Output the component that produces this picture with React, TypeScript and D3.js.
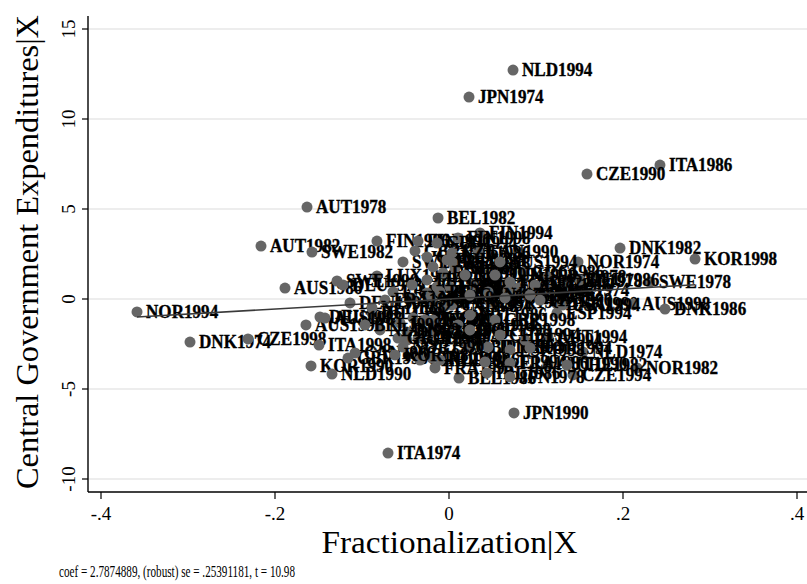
import React from "react";
import * as d3 from "d3";

// Labelled outliers + cluster (country-year), x = Fractionalization|X, y = Central Government Expenditures|X
const labels = [
  "NLD1994","JPN1974","ITA1986","CZE1990","AUT1978","BEL1982","AUT1982","SWE1982","FIN1986","FIN1994",
  "DNK1982","KOR1998","NOR1974","SWE1978","LUX1990","AUS1986","NOR1994","DNK1990","AUS1998","DNK1986",
  "ESP1994","AUS1990","DNK1974","CZE1998","ITA1998","KOR1990","NLD1990","ITA1974","JPN1990","BEL1986",
  "AUT1994","NLD1974","NOR1982","CZE1994","AUT1990",
  "FIN1990","SWE1986","GBR1978","CAN1982","USA1986","SWE1990","DEU1978","FRA1982","CHE1986","PRT1990",
  "IRL1982","BEL1990","DEU1994","ESP1982","FIN1998","GBR1994","CAN1990","NZL1986","USA1978","ISL1990",
  "ESP1990","POL1998","GRC1986","FRA1978","HUN1994","ESP1986","PRT1982","NZL1998","CHE1998","USA1982",
  "SWE1974","GBR1982","FIN1978","BEL1978","DEU1986","CAN1994","NOR1986","ITA1994","FRA1990","IRL1998",
  "DEU1982","NLD1982","AUS1982","JPN1982","JPN1986","AUT1986","GRC1994","USA1990","PRT1994","GBR1990",
  "CAN1986","CHE1990","IRL1990","FRA1994","ISL1994","POL1994","NZL1990","GBR1986","JPN1994","ESP1998",
  "BEL1994","KOR1994","NLD1986","SWE1994","FRA1986","CHE1982","IRL1986","JPN1978","USA1994","DNK1994",
  "GRC1990","NOR1990","AUS1994","NZL1994","HUN1998","FIN1982","DEU1990","CAN1978","USA1998","ITA1982",
  "ITA1990","PRT1986","GBR1998","NLD1998","BEL1998","KOR1986","NOR1998","CHE1994",
];
const xVals = [
  0.0736, 0.0230, 0.2425, 0.1586, -0.1632, -0.0126, -0.2161, -0.1575, -0.0828, 0.0356,
  0.1966, 0.2828, 0.1483, 0.2310, -0.0828, -0.1885, -0.3586, 0.1241, 0.2115, 0.2483,
  0.1241, -0.1644, -0.2977, -0.2310, -0.1494, -0.1586, -0.1345, -0.0701, 0.0747, 0.0115,
  0.1138, 0.1540, 0.2161, 0.1425, 0.1138,
  -0.0356, -0.0529, -0.0391, -0.0253, -0.0184, -0.1287, -0.1218, -0.0644, -0.0425, -0.0253,
  -0.0425, -0.0138, -0.1138, -0.0184, 0.0103, -0.0138, 0.0333, 0.0034, 0.0046, 0.0069,
  -0.0069, -0.0023, 0.0851, 0.1138, 0.0276, 0.0011, -0.0103, 0.0448, 0.0678, 0.0793,
  0.1138, 0.0471, -0.0046, 0.1333, 0.1506, 0.0034, -0.0218, -0.0253, -0.0736, -0.0885,
  -0.1483, -0.0885, -0.1425, -0.0414, -0.0563, -0.0483, -0.0356, -0.0195, -0.0276, -0.1161,
  -0.1080, -0.0333, -0.0195, -0.0161, -0.0184, 0.0103, -0.0218, 0.0218, 0.0448, 0.0701,
  0.0874, 0.0931, -0.0103, 0.0414, 0.0701, 0.1356, 0.0437, 0.0701, 0.1310, -0.0483,
  -0.0586, -0.0529, 0.0586, 0.0184, 0.0529, 0.0701, 0.0989, 0.0241, 0.0644, 0.0931,
  0.1046, 0.0241, 0.0529, -0.0793, -0.0966, -0.0621, 0.0241, 0.0586, 0.0816, 0.1103,
  0.1621, 0.1736, -0.0621, -0.1023,
];
const yVals = [
  12.72, 11.22, 7.44, 6.94, 5.11, 4.50, 2.94, 2.61, 3.22, 3.67,
  2.83, 2.22, 2.06, 0.94, 1.28, 0.61, -0.72, -0.28, -0.28, -0.56,
  -0.78, -1.44, -2.39, -2.22, -2.56, -3.72, -4.17, -8.56, -6.33, -4.39,
  -2.11, -2.94, -3.83, -4.22, -3.61,
  3.22, 2.06, 2.67, 2.33, 1.78, 1.00, 0.78, 0.39, 0.78, 0.33,
  0.06, 0.67, -0.22, -0.17, 3.39, 3.11, 2.61, 2.56, 2.00, 1.72,
  1.44, 2.17, 1.50, 1.22, 0.78, 0.67, 0.39, 0.39, 0.44, 0.61,
  0.50, -0.17, -0.39, 1.00, 1.06, -0.33, 0.06, 1.06, -0.06, -0.78,
  -1.00, -0.50, -1.06, -1.06, -1.33, -2.28, -2.17, -1.72, -1.17, -3.28,
  -3.00, -3.39, -3.28, -3.83, -1.17, -1.44, -1.89, -2.67, -2.67, -2.83,
  -2.28, -2.72, -3.39, -3.50, -3.56, -3.67, -4.11, -4.33, -0.33, -1.83,
  -2.17, -2.67, 2.06, 1.33, 1.33, 0.94, 0.78, 0.22, 0.06, 0.22,
  -0.06, -0.89, -1.17, -1.72, -1.44, -3.11, -1.72, -2.00, -1.17, -1.28,
  0.50, 0.94, 1.33, 0.39,
];

const xTicks = [-0.4, -0.2, 0, 0.2, 0.4];
const xTickLabels = ["-.4", "-.2", "0", ".2", ".4"];
const yTicks = [-10, -5, 0, 5, 10, 15];
const yTickLabels = ["-10", "-5", "0", "5", "10", "15"];
const coef = 2.7874889;
const note = "coef = 2.7874889, (robust) se = .25391181, t = 10.98";
const xTitle = "Fractionalization|X";
const yTitle = "Central Government Expenditures|X";

const W = 807;
const H = 584;
const L = 88, R = 807, T = 16, B = 492;
const serif = "'Liberation Serif', 'DejaVu Serif', serif";

export default function App() {
  const x = d3.scaleLinear().domain([-0.4, 0.4]).range([101, 797]);
  const y = d3.scaleLinear().domain([-10, 15]).range([479, 29]);
  const n = Math.min(labels.length, xVals.length, yVals.length);
  const idx = d3.range(n);
  const xmin = d3.min(idx, (i) => xVals[i]) as number;
  const xmax = d3.max(idx, (i) => xVals[i]) as number;
  const line = d3.line<number>().x((v) => x(v)).y((v) => y(coef * v));

  return (
    <svg width={W} height={H} style={{ position: "absolute", left: 0, top: 0, background: "#fff" }}>
      <rect x={0} y={0} width={W} height={H} fill="#fff" />
      {yTicks.map((t) => (
        <line key={"g" + t} x1={L} x2={R} y1={y(t)} y2={y(t)} stroke="#e7e7e7" strokeWidth={1.6} />
      ))}
      <line x1={L} x2={L} y1={T} y2={B} stroke="#000" strokeWidth={1.4} />
      <line x1={L} x2={R} y1={B} y2={B} stroke="#000" strokeWidth={1.4} />
      {yTicks.map((t, i) => (
        <g key={"yt" + t}>
          <line x1={L - 6} x2={L} y1={y(t)} y2={y(t)} stroke="#000" strokeWidth={1.2} />
          <text
            transform={`translate(75,${y(t)}) rotate(-90)`}
            textAnchor="middle"
            fontFamily={serif}
            fontSize={19}
          >
            {yTickLabels[i]}
          </text>
        </g>
      ))}
      {xTicks.map((t, i) => (
        <g key={"xt" + t}>
          <line x1={x(t)} x2={x(t)} y1={B} y2={B + 7} stroke="#000" strokeWidth={1.2} />
          <text x={x(t)} y={520} textAnchor="middle" fontFamily={serif} fontSize={19}>
            {xTickLabels[i]}
          </text>
        </g>
      ))}
      {idx.map((i) => (
        <g key={"p" + i}>
          <circle cx={x(xVals[i])} cy={y(yVals[i])} r={5.5} fill="#666666" />
          <text
            transform={`translate(${x(xVals[i]) + 9},${y(yVals[i]) + 6}) scale(0.95,1)`}
            fontFamily={serif}
            fontWeight="bold"
            fontSize={18}
            fill="#000"
            stroke="#000"
            strokeWidth={0.35}
          >
            {labels[i]}
          </text>
        </g>
      ))}
      <path d={line([xmin, xmax]) || ""} fill="none" stroke="#3a3a3a" strokeWidth={1.6} />
      <text x={449.5} y={553} textAnchor="middle" fontFamily={serif} fontSize={32} textLength={256} lengthAdjust="spacingAndGlyphs">
        {xTitle}
      </text>
      <text
        transform={`translate(38,252) rotate(-90)`}
        textAnchor="middle"
        fontFamily={serif}
        fontSize={32}
        textLength={474}
        lengthAdjust="spacingAndGlyphs"
      >
        {yTitle}
      </text>
      <text x={59} y={577} fontFamily={serif} fontSize={16} textLength={236} lengthAdjust="spacingAndGlyphs">
        {note}
      </text>
    </svg>
  );
}
